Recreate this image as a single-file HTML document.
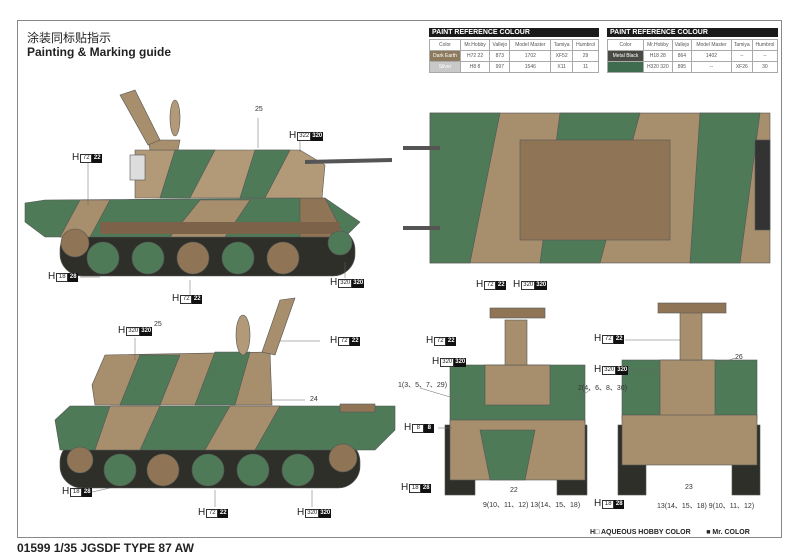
<!DOCTYPE html>
<html><head><meta charset="utf-8"><style>
body{margin:0;width:800px;height:558px;background:#fff;position:relative;overflow:hidden;font-family:"Liberation Sans","Noto Sans CJK SC",sans-serif;}
.frame{position:absolute;left:17px;top:20px;width:765px;height:518px;border:1px solid #888;box-sizing:border-box;}
.h{position:absolute;font-size:10px;line-height:10px;white-space:nowrap;color:#222;display:flex;align-items:center;}
.h .w{display:inline-block;border:1px solid #333;font-size:6px;line-height:7px;padding:0 1px;margin-left:1px;min-width:8px;text-align:center;background:#fff;}
.h .k{display:inline-block;background:#111;color:#fff;font-size:6px;line-height:9px;padding:0 1px;min-width:8px;text-align:center;font-weight:bold;}
.n{position:absolute;font-size:7px;color:#333;white-space:nowrap;}
table{border-collapse:collapse;font-size:5px;color:#555;position:absolute;}
td{border:1px solid #aaa;text-align:center;height:10px;padding:0;}
.th{position:absolute;background:#1a1a1a;color:#fff;font-size:7px;font-weight:bold;height:9px;line-height:9px;padding-left:3px;}
</style></head><body>
<div class="frame"></div>
<div style="position:absolute;left:27px;top:29px;font-size:12px;color:#222;">涂装同标贴指示</div>
<div style="position:absolute;left:27px;top:45px;font-size:12px;font-weight:bold;color:#222;">Painting &amp; Marking guide</div>
<div style="position:absolute;left:17px;top:541px;font-size:12px;font-weight:bold;color:#222;">01599 1/35 JGSDF TYPE 87 AW</div>
<div style="position:absolute;left:590px;top:529px;font-size:7px;font-weight:bold;color:#222;">H□ AQUEOUS HOBBY COLOR &nbsp;&nbsp;&nbsp;&nbsp;&nbsp;&nbsp;&nbsp;■ Mr. COLOR</div>

<div class="th" style="left:429px;top:28px;width:167px;">PAINT REFERENCE COLOUR</div>
<table style="left:429px;top:39px;width:170px;"><tr><td style="width:30px">Color</td><td>Mr.Hobby</td><td>Vallejo</td><td>Model Master</td><td>Tamiya</td><td>Humbrol</td></tr>
<tr><td style="background:#8d7a5c;color:#fff">Dark Earth</td><td>H72 22</td><td>873</td><td>1702</td><td>XF52</td><td>29</td></tr>
<tr><td style="background:#c8c8c8;color:#fff">Silver</td><td>H8 8</td><td>997</td><td>1546</td><td>X11</td><td>11</td></tr></table>
<div class="th" style="left:607px;top:28px;width:168px;">PAINT REFERENCE COLOUR</div>
<table style="left:607px;top:39px;width:171px;"><tr><td style="width:35px">Color</td><td>Mr.Hobby</td><td>Vallejo</td><td>Model Master</td><td>Tamiya</td><td>Humbrol</td></tr>
<tr><td style="background:#4a4a44;color:#fff">Metal Black</td><td>H18 28</td><td>864</td><td>1402</td><td>--</td><td>--</td></tr>
<tr><td style="background:#3f6b4e;color:#fff"> </td><td>H320 320</td><td>895</td><td>--</td><td>XF26</td><td>30</td></tr></table>

<svg width="800" height="558" style="position:absolute;left:0;top:0">
<g stroke="#555" stroke-width="0.6">
<!-- side view 1 -->
<rect x="60" y="228" width="295" height="48" rx="22" fill="#2f2f2a"/>
<polygon points="25,203 45,200 325,198 360,222 345,237 45,237 25,222" fill="#4e7a58"/>
<polygon points="80,200 110,200 90,237 60,237" fill="#a78e6c"/>
<polygon points="200,200 250,200 225,237 170,237" fill="#a78e6c"/>
<polygon points="300,198 325,198 345,237 300,237" fill="#8f7556"/>
<rect x="100" y="222" width="240" height="12" fill="#7c6248" stroke="none"/>
<polygon points="135,150 300,150 325,165 322,198 135,198" fill="#b29a78"/>
<polygon points="175,150 215,150 190,198 160,198" fill="#4e7a58"/>
<polygon points="255,150 290,150 265,198 240,198" fill="#4e7a58"/>
<line x1="305" y1="162" x2="392" y2="160" stroke="#555" stroke-width="4"/>
<polygon points="148,140 180,140 178,150 150,150" fill="#a78e6c"/>
<polygon points="120,95 135,90 160,140 148,145" fill="#a78e6c"/>
<ellipse cx="175" cy="118" rx="5" ry="18" fill="#b29a78"/>
<rect x="130" y="155" width="15" height="25" fill="#ddd"/>
<g fill="#4e7a58"><circle cx="103" cy="258" r="16"/><circle cx="148" cy="258" r="16"/><circle cx="193" cy="258" r="16" fill="#8f7556"/><circle cx="238" cy="258" r="16"/><circle cx="283" cy="258" r="16" fill="#8f7556"/><circle cx="75" cy="243" r="14" fill="#8f7556"/><circle cx="340" cy="243" r="12" fill="#4e7a58"/></g>

<!-- side view 2 -->
<rect x="60" y="440" width="300" height="48" rx="22" fill="#2f2f2a"/>
<polygon points="55,420 70,406 395,406 395,430 375,450 60,450" fill="#4e7a58"/>
<polygon points="110,406 160,406 140,450 95,450" fill="#a78e6c"/>
<polygon points="230,406 280,406 255,450 205,450" fill="#a78e6c"/>
<rect x="340" y="404" width="35" height="8" fill="#8f7556"/>
<polygon points="92,385 105,355 270,352 272,405 95,405" fill="#a78e6c"/>
<polygon points="140,355 180,355 160,405 120,405" fill="#4e7a58"/>
<polygon points="215,352 250,352 235,405 195,405" fill="#4e7a58"/>
<ellipse cx="243" cy="335" rx="7" ry="20" fill="#b29a78"/>
<polygon points="280,300 295,298 275,355 262,352" fill="#a78e6c"/>
<g fill="#4e7a58"><circle cx="80" cy="460" r="13" fill="#8f7556"/><circle cx="120" cy="470" r="16"/><circle cx="163" cy="470" r="16" fill="#8f7556"/><circle cx="208" cy="470" r="16"/><circle cx="253" cy="470" r="16"/><circle cx="298" cy="470" r="16"/><circle cx="343" cy="458" r="14" fill="#8f7556"/></g>

<!-- top view -->
<rect x="430" y="113" width="340" height="150" fill="#a78e6c"/>
<polygon points="430,113 500,113 470,263 430,263" fill="#4e7a58"/>
<polygon points="560,113 640,113 600,263 540,263" fill="#4e7a58"/>
<polygon points="700,113 760,113 740,263 690,263" fill="#4e7a58"/>
<rect x="520" y="140" width="150" height="100" fill="#8f7556"/>
<rect x="755" y="140" width="15" height="90" fill="#333"/>
<line x1="403" y1="148" x2="440" y2="148" stroke-width="4"/>
<line x1="403" y1="228" x2="440" y2="228" stroke-width="4"/>

<!-- front view -->
<rect x="445" y="425" width="30" height="70" fill="#2f2f2a"/>
<rect x="557" y="425" width="30" height="70" fill="#2f2f2a"/>
<rect x="450" y="365" width="135" height="60" fill="#4e7a58"/>
<rect x="485" y="365" width="65" height="40" fill="#a78e6c"/>
<rect x="450" y="420" width="135" height="60" fill="#a78e6c"/>
<polygon points="480,430 535,430 525,480 490,480" fill="#4e7a58"/>
<rect x="505" y="320" width="22" height="45" fill="#a78e6c"/>
<rect x="490" y="308" width="55" height="10" fill="#8f7556"/>

<!-- rear view -->
<rect x="618" y="425" width="28" height="70" fill="#2f2f2a"/>
<rect x="732" y="425" width="28" height="70" fill="#2f2f2a"/>
<rect x="622" y="360" width="135" height="60" fill="#4e7a58"/>
<rect x="660" y="360" width="55" height="60" fill="#a78e6c"/>
<rect x="622" y="415" width="135" height="50" fill="#a78e6c"/>
<rect x="680" y="312" width="22" height="48" fill="#a78e6c"/>
<rect x="658" y="303" width="68" height="10" fill="#8f7556"/>
</g>
<g stroke="#666" stroke-width="0.5" fill="none">
<line x1="88" y1="163" x2="88" y2="205"/><line x1="258" y1="118" x2="258" y2="148"/><line x1="300" y1="141" x2="300" y2="152"/>
<line x1="80" y1="277" x2="100" y2="277"/><line x1="190" y1="280" x2="190" y2="295"/><line x1="345" y1="262" x2="345" y2="278"/>
<line x1="135" y1="338" x2="135" y2="360"/><line x1="320" y1="341" x2="280" y2="341"/><line x1="305" y1="400" x2="270" y2="400"/>
<line x1="92" y1="492" x2="110" y2="488"/><line x1="215" y1="490" x2="215" y2="507"/><line x1="312" y1="490" x2="312" y2="507"/>
<line x1="420" y1="388" x2="460" y2="400"/><line x1="590" y1="390" x2="575" y2="400"/><line x1="438" y1="428" x2="452" y2="428"/>
<line x1="625" y1="340" x2="680" y2="340"/><line x1="625" y1="370" x2="660" y2="370"/><line x1="735" y1="358" x2="715" y2="365"/>
</g>
</svg>

<div class="h" style="left:72px;top:153px">H<span class="w">72</span><span class="k">22</span></div>
<div class="h" style="left:289px;top:131px">H<span class="w">322</span><span class="k">320</span></div>
<div class="h" style="left:48px;top:272px">H<span class="w">18</span><span class="k">28</span></div>
<div class="h" style="left:172px;top:294px">H<span class="w">72</span><span class="k">22</span></div>
<div class="h" style="left:330px;top:278px">H<span class="w">320</span><span class="k">320</span></div>
<div class="h" style="left:118px;top:326px">H<span class="w">320</span><span class="k">320</span></div>
<div class="h" style="left:330px;top:336px">H<span class="w">72</span><span class="k">22</span></div>
<div class="h" style="left:62px;top:487px">H<span class="w">18</span><span class="k">28</span></div>
<div class="h" style="left:198px;top:508px">H<span class="w">72</span><span class="k">22</span></div>
<div class="h" style="left:297px;top:508px">H<span class="w">320</span><span class="k">320</span></div>
<div class="h" style="left:476px;top:280px">H<span class="w">72</span><span class="k">22</span></div>
<div class="h" style="left:513px;top:280px">H<span class="w">320</span><span class="k">320</span></div>
<div class="h" style="left:426px;top:336px">H<span class="w">72</span><span class="k">22</span></div>
<div class="h" style="left:432px;top:357px">H<span class="w">320</span><span class="k">320</span></div>
<div class="h" style="left:404px;top:423px">H<span class="w">8</span><span class="k">8</span></div>
<div class="h" style="left:401px;top:483px">H<span class="w">18</span><span class="k">28</span></div>
<div class="h" style="left:594px;top:334px">H<span class="w">72</span><span class="k">22</span></div>
<div class="h" style="left:594px;top:365px">H<span class="w">320</span><span class="k">320</span></div>
<div class="h" style="left:594px;top:499px">H<span class="w">18</span><span class="k">28</span></div>

<div class="n" style="left:255px;top:106px">25</div>
<div class="n" style="left:154px;top:321px">25</div>
<div class="n" style="left:310px;top:396px">24</div>
<div class="n" style="left:398px;top:380px">1(3、5、7、29)</div>
<div class="n" style="left:578px;top:383px">2(4、6、8、30)</div>
<div class="n" style="left:510px;top:487px">22</div>
<div class="n" style="left:483px;top:500px">9(10、11、12) 13(14、15、18)</div>
<div class="n" style="left:735px;top:354px">26</div>
<div class="n" style="left:685px;top:484px">23</div>
<div class="n" style="left:657px;top:501px">13(14、15、18) 9(10、11、12)</div>
</body></html>
